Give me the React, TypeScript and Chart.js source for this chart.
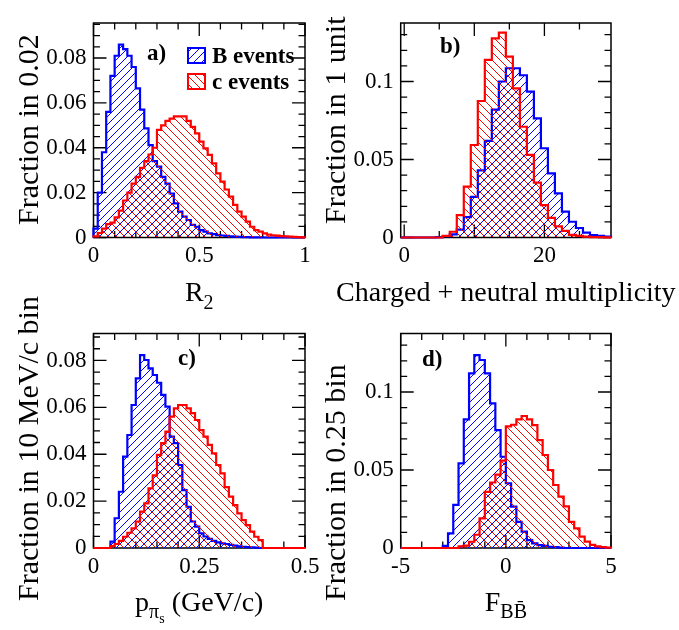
import React, { useEffect, useRef } from "react";
import { Chart, registerables } from "chart.js";

Chart.register(...registerables);

// ---------------- data ----------------
// Panel a) R2 : 50 bins of 0.02 from 0 to 1
const R2_START = 0;
const R2_BIN = 0.02;
const R2_B_EVENTS = [0.004, 0.02, 0.038, 0.056, 0.072, 0.081, 0.086, 0.084, 0.081, 0.076, 0.0665, 0.057, 0.0486, 0.0412, 0.034, 0.0316, 0.027, 0.024, 0.0196, 0.0152, 0.0115, 0.0093, 0.0078, 0.0056, 0.0048, 0.0033, 0.0026, 0.0018, 0.0015, 0.0011, 0.0009, 0.0007, 0.0005, 0.0004, 0.0003, 0.0002, 0.0002, 0.0001, 0.0001, 0.0001, 0, 0, 0, 0, 0, 0, 0, 0, 0, 0];
const R2_C_EVENTS = [0.0005, 0.002, 0.004, 0.006, 0.0066, 0.009, 0.012, 0.0165, 0.02, 0.024, 0.027, 0.031, 0.034, 0.037, 0.04, 0.048, 0.05, 0.052, 0.053, 0.054, 0.054, 0.054, 0.052, 0.0493, 0.0464, 0.0427, 0.0397, 0.0368, 0.033, 0.0286, 0.0249, 0.0214, 0.0182, 0.0145, 0.0115, 0.0093, 0.0071, 0.0048, 0.0033, 0.0026, 0.0018, 0.0013, 0.001, 0.0008, 0.0006, 0.0005, 0.0004, 0.0003, 0.0002, 0.0001];

// Panel b) multiplicity : 30 bins of 1 unit from -0.5 to 29.5
const MULT_START = -0.5;
const MULT_BIN = 1;
const MULT_B_EVENTS = [0, 0, 0, 0, 0, 0.0003, 0.0008, 0.002, 0.005, 0.013, 0.026, 0.043, 0.062, 0.082, 0.1, 0.1085, 0.1085, 0.104, 0.0935, 0.0764, 0.0572, 0.0411, 0.0283, 0.0166, 0.0101, 0.0061, 0.0031, 0.0016, 0.001, 0.0005];
const MULT_C_EVENTS = [0, 0, 0, 0, 0, 0, 0.001, 0.0037, 0.0144, 0.0326, 0.0593, 0.0875, 0.1138, 0.1277, 0.1313, 0.1159, 0.0956, 0.071, 0.053, 0.0352, 0.0208, 0.0126, 0.0071, 0.0043, 0.0017, 0.001, 0.0005, 0.0003, 0.0002, 0.0001];

// Panel c) p_pi_s : 50 bins of 0.01 GeV/c from 0 to 0.5
const PPI_START = 0;
const PPI_BIN = 0.01;
const PPI_B_EVENTS = [0, 0, 0, 0, 0.0027, 0.0127, 0.024, 0.039, 0.0482, 0.061, 0.0724, 0.0823, 0.0802, 0.0766, 0.0738, 0.0705, 0.0653, 0.0603, 0.0475, 0.0447, 0.0354, 0.0247, 0.0176, 0.0113, 0.0091, 0.0063, 0.0049, 0.0039, 0.003, 0.0024, 0.002, 0.0017, 0.0013, 0.001, 0.0007, 0.0005, 0.0004, 0.0003, 0.0002, 0, 0, 0, 0, 0, 0, 0, 0, 0, 0, 0];
const PPI_C_EVENTS = [0, 0, 0, 0, 0.0008, 0.0017, 0.003, 0.0048, 0.0065, 0.0084, 0.0113, 0.0155, 0.019, 0.0254, 0.031, 0.0397, 0.0447, 0.0496, 0.056, 0.0596, 0.061, 0.061, 0.0596, 0.0575, 0.0546, 0.0503, 0.0475, 0.044, 0.0404, 0.0354, 0.0318, 0.026, 0.0219, 0.0183, 0.0148, 0.0119, 0.0098, 0.007, 0.0048, 0.0034, 0, 0, 0, 0, 0, 0, 0, 0, 0, 0];

// Panel d) Fisher F_BB : 40 bins of 0.25 from -5 to 5
const FBB_START = -5;
const FBB_BIN = 0.25;
const FBB_B_EVENTS = [0, 0, 0, 0, 0, 0, 0, 0, 0.0013, 0.0094, 0.0276, 0.0543, 0.0825, 0.112, 0.1237, 0.1205, 0.112, 0.0927, 0.0756, 0.0585, 0.0415, 0.0265, 0.0168, 0.0105, 0.0051, 0.003, 0.0019, 0.0013, 0.0008, 0.0005, 0.0003, 0, 0, 0, 0, 0, 0, 0, 0, 0];
const FBB_C_EVENTS = [0, 0, 0, 0, 0, 0, 0, 0, 0, 0, 0, 0.001, 0.0015, 0.004, 0.0085, 0.019, 0.036, 0.042, 0.047, 0.056, 0.078, 0.079, 0.0825, 0.0846, 0.0825, 0.0788, 0.0692, 0.0596, 0.05, 0.0404, 0.0329, 0.0267, 0.0168, 0.0126, 0.0073, 0.0041, 0.002, 0.001, 0.0005, 0.0002];

// tick labels
const R2_X_LABELS = [0, 0.5, 1];
const R2_Y_LABELS = [0, 0.02, 0.04, 0.06, 0.08];
const MULT_X_LABELS = [0, 20];
const MULT_Y_LABELS = [0, 0.05, 0.1];
const PPI_X_LABELS = [0, 0.25, 0.5];
const PPI_Y_LABELS = [0, 0.02, 0.04, 0.06, 0.08];
const FBB_X_LABELS = [-5, 0, 5];
const FBB_Y_LABELS = [0, 0.05, 0.1];

const LEGEND_LABELS = ["B events", "c events"];

// ---------------- styles / layout ----------------
const W = 679;
const H = 630;
const BLUE = "#0000ff";
const RED = "#ff0000";
const SERIF = "'Liberation Serif', 'Times New Roman', serif";
const TICK_FONT = 23;
const TITLE_FONT = 28;
const Y_TITLE_FONT = 30;

type Seg = { t: string; size: number; dy: number; bar?: boolean };

type Panel = {
  frame: { l: number; t: number; r: number; b: number };
  xMin: number; xMax: number; yMax: number;
  start: number; bin: number; blue: number[]; red: number[];
  xLabels: number[]; yLabels: number[];
  xMinorStep: number; xMajorStep: number; yMinorStep: number; yMajorStep: number;
  tag: string; tagPos: [number, number];
  yTitle: string; yTitlePos: [number, number];
  xTitle: Seg[]; xTitleY: number;
  legend?: boolean;
};

const PANELS: Panel[] = [
  {
    frame: { l: 93.5, t: 23, r: 305, b: 237.5 },
    xMin: 0, xMax: 1, yMax: 0.0956,
    start: R2_START, bin: R2_BIN, blue: R2_B_EVENTS, red: R2_C_EVENTS,
    xLabels: R2_X_LABELS, yLabels: R2_Y_LABELS,
    xMinorStep: 0.1, xMajorStep: 0.5, yMinorStep: 0.005, yMajorStep: 0.02,
    tag: "a)", tagPos: [147, 60],
    yTitle: "Fraction in 0.02", yTitlePos: [38, 225],
    xTitle: [{ t: "R", size: TITLE_FONT, dy: 0 }, { t: "2", size: 20, dy: 8 }], xTitleY: 301,
    legend: true,
  },
  {
    frame: { l: 400.7, t: 23, r: 611, b: 237.5 },
    xMin: -0.5, xMax: 29.5, yMax: 0.1375,
    start: MULT_START, bin: MULT_BIN, blue: MULT_B_EVENTS, red: MULT_C_EVENTS,
    xLabels: MULT_X_LABELS, yLabels: MULT_Y_LABELS,
    xMinorStep: 5, xMajorStep: 10, yMinorStep: 0.01, yMajorStep: 0.05,
    tag: "b)", tagPos: [440, 53],
    yTitle: "Fraction in 1 unit", yTitlePos: [345, 224],
    xTitle: [{ t: "Charged + neutral multiplicity", size: TITLE_FONT, dy: 0 }], xTitleY: 301,
  },
  {
    frame: { l: 93.5, t: 333.5, r: 305, b: 548 },
    xMin: 0, xMax: 0.5, yMax: 0.0915,
    start: PPI_START, bin: PPI_BIN, blue: PPI_B_EVENTS, red: PPI_C_EVENTS,
    xLabels: PPI_X_LABELS, yLabels: PPI_Y_LABELS,
    xMinorStep: 0.05, xMajorStep: 0.25, yMinorStep: 0.005, yMajorStep: 0.02,
    tag: "c)", tagPos: [178, 365],
    yTitle: "Fraction in 10 MeV/c bin", yTitlePos: [38, 601],
    xTitle: [
      { t: "p", size: TITLE_FONT, dy: 0 },
      { t: "π", size: 20, dy: 7 },
      { t: "s", size: 14, dy: 12 },
      { t: " (GeV/c)", size: TITLE_FONT, dy: 0 },
    ],
    xTitleY: 611,
  },
  {
    frame: { l: 400.7, t: 333.5, r: 611, b: 548 },
    xMin: -5, xMax: 5, yMax: 0.1375,
    start: FBB_START, bin: FBB_BIN, blue: FBB_B_EVENTS, red: FBB_C_EVENTS,
    xLabels: FBB_X_LABELS, yLabels: FBB_Y_LABELS,
    xMinorStep: 1, xMajorStep: 5, yMinorStep: 0.01, yMajorStep: 0.05,
    tag: "d)", tagPos: [422, 366],
    yTitle: "Fraction in 0.25 bin", yTitlePos: [345, 601],
    xTitle: [
      { t: "F", size: TITLE_FONT, dy: 0 },
      { t: "B", size: 20, dy: 7 },
      { t: "B", size: 20, dy: 7, bar: true },
    ],
    xTitleY: 611,
  },
];

function hatch(color: string, forward: boolean): CanvasPattern | string {
  const s = 8;
  const c = document.createElement("canvas");
  c.width = s;
  c.height = s;
  const g = c.getContext("2d");
  if (!g) return "transparent";
  g.strokeStyle = color;
  g.lineWidth = 1;
  g.beginPath();
  if (forward) {
    g.moveTo(0, s); g.lineTo(s, 0);
    g.moveTo(-1, 1); g.lineTo(1, -1);
    g.moveTo(s - 1, s + 1); g.lineTo(s + 1, s - 1);
  } else {
    g.moveTo(0, 0); g.lineTo(s, s);
    g.moveTo(-1, s - 1); g.lineTo(1, s + 1);
    g.moveTo(s - 1, -1); g.lineTo(s + 1, 1);
  }
  g.stroke();
  return g.createPattern(c, "repeat") || color;
}

function stepPoints(start: number, bin: number, values: number[]) {
  const pts: { x: number; y: number }[] = [{ x: start, y: 0 }];
  values.forEach((v, i) => {
    pts.push({ x: start + i * bin, y: v });
    pts.push({ x: start + (i + 1) * bin, y: v });
  });
  pts.push({ x: start + values.length * bin, y: 0 });
  return pts;
}

function tickValues(min: number, max: number, step: number) {
  const out: number[] = [];
  const first = Math.ceil(min / step - 1e-9);
  for (let k = first; k * step <= max + 1e-9; k++) out.push(k * step);
  return out;
}

function drawSegs(ctx: CanvasRenderingContext2D, segs: Seg[], cx: number, y: number) {
  let total = 0;
  segs.forEach((s) => {
    ctx.font = `${s.size}px ${SERIF}`;
    total += ctx.measureText(s.t).width;
  });
  let x = cx - total / 2;
  ctx.textAlign = "left";
  ctx.textBaseline = "alphabetic";
  segs.forEach((s) => {
    ctx.font = `${s.size}px ${SERIF}`;
    const w = ctx.measureText(s.t).width;
    ctx.fillText(s.t, x, y + s.dy);
    if (s.bar) {
      ctx.save();
      ctx.lineWidth = 1.2;
      ctx.strokeStyle = "#000";
      ctx.beginPath();
      const by = y + s.dy - s.size * 0.82;
      ctx.moveTo(x + w * 0.3, by);
      ctx.lineTo(x + w * 0.7, by);
      ctx.stroke();
      ctx.restore();
    }
    x += w;
  });
}

function makeDecor(p: Panel, blueFill: any, redFill: any) {
  return {
    id: "rootDecor",
    beforeDatasetsDraw(chart: any) {
      const ctx: CanvasRenderingContext2D = chart.ctx;
      const { left, right, top, bottom } = chart.chartArea;
      const xs = chart.scales.x;
      const ys = chart.scales.y;
      ctx.save();
      ctx.strokeStyle = "#000";
      ctx.lineWidth = 1.5;
      ctx.strokeRect(left, top, right - left, bottom - top);
      ctx.lineWidth = 1.3;
      ctx.beginPath();
      tickValues(p.xMin, p.xMax, p.xMinorStep).forEach((v) => {
        const major = Math.abs(v / p.xMajorStep - Math.round(v / p.xMajorStep)) < 1e-6;
        const len = major ? 13 : 6.5;
        const px = xs.getPixelForValue(v);
        ctx.moveTo(px, bottom); ctx.lineTo(px, bottom - len);
        ctx.moveTo(px, top); ctx.lineTo(px, top + len);
      });
      tickValues(0, p.yMax, p.yMinorStep).forEach((v) => {
        const major = Math.abs(v / p.yMajorStep - Math.round(v / p.yMajorStep)) < 1e-6;
        const len = major ? 13 : 6.5;
        const py = ys.getPixelForValue(v);
        ctx.moveTo(left, py); ctx.lineTo(left + len, py);
        ctx.moveTo(right, py); ctx.lineTo(right - len, py);
      });
      ctx.stroke();
      ctx.restore();
    },
    afterDraw(chart: any) {
      const ctx: CanvasRenderingContext2D = chart.ctx;
      const { left, right } = chart.chartArea;
      ctx.save();
      ctx.fillStyle = "#000";
      ctx.font = `bold 23px ${SERIF}`;
      ctx.textAlign = "left";
      ctx.textBaseline = "alphabetic";
      ctx.fillText(p.tag, p.tagPos[0], p.tagPos[1]);
      if (p.legend) {
        const rows = [
          { label: LEGEND_LABELS[0], color: BLUE, fill: blueFill, y: 48 },
          { label: LEGEND_LABELS[1], color: RED, fill: redFill, y: 74 },
        ];
        rows.forEach((r) => {
          ctx.fillStyle = r.fill;
          ctx.fillRect(188, r.y, 17, 15);
          ctx.strokeStyle = r.color;
          ctx.lineWidth = 2;
          ctx.strokeRect(188, r.y, 17, 15);
          ctx.fillStyle = "#000";
          ctx.font = `bold 23px ${SERIF}`;
          ctx.fillText(r.label, 212, r.y + 15);
        });
      }
      ctx.fillStyle = "#000";
      drawSegs(ctx, p.xTitle, (left + right) / 2, p.xTitleY);
      ctx.save();
      ctx.translate(p.yTitlePos[0], p.yTitlePos[1]);
      ctx.rotate(-Math.PI / 2);
      ctx.font = `${Y_TITLE_FONT}px ${SERIF}`;
      ctx.textAlign = "left";
      ctx.textBaseline = "alphabetic";
      ctx.fillText(p.yTitle, 0, 0);
      ctx.restore();
      ctx.restore();
    },
  };
}

const Y_AXIS_W = 60;
const X_AXIS_H = 40;

function buildChart(canvas: HTMLCanvasElement, p: Panel) {
  const blueFill = hatch(BLUE, true);
  const redFill = hatch(RED, false);
  const fmt = (v: any) => String(Number(v));
  return new Chart(canvas, {
    type: "line",
    data: {
      datasets: [
        {
          label: LEGEND_LABELS[0],
          data: stepPoints(p.start, p.bin, p.blue),
          borderColor: BLUE,
          backgroundColor: blueFill as any,
          borderWidth: 2.2,
          fill: "origin",
          pointRadius: 0,
          tension: 0,
          clip: false as any,
          order: 2,
        },
        {
          label: LEGEND_LABELS[1],
          data: stepPoints(p.start, p.bin, p.red),
          borderColor: RED,
          backgroundColor: redFill as any,
          borderWidth: 2.2,
          fill: "origin",
          pointRadius: 0,
          tension: 0,
          clip: false as any,
          order: 1,
        },
      ],
    },
    options: {
      animation: false,
      responsive: false,
      events: [],
      layout: {
        padding: {
          left: p.frame.l - Y_AXIS_W,
          top: p.frame.t,
          right: W - p.frame.r,
          bottom: H - p.frame.b - X_AXIS_H,
        },
      },
      plugins: { legend: { display: false }, tooltip: { enabled: false } },
      scales: {
        x: {
          type: "linear",
          min: p.xMin,
          max: p.xMax,
          grid: { display: false, drawTicks: false },
          border: { display: false },
          afterFit: (s: any) => { s.height = X_AXIS_H; },
          afterBuildTicks: (s: any) => { s.ticks = p.xLabels.map((v) => ({ value: v })); },
          ticks: {
            callback: fmt,
            color: "#000",
            font: { family: SERIF, size: TICK_FONT },
            padding: 5,
            maxRotation: 0,
            autoSkip: false,
          },
        },
        y: {
          type: "linear",
          min: 0,
          max: p.yMax,
          grid: { display: false, drawTicks: false },
          border: { display: false },
          afterFit: (s: any) => { s.width = Y_AXIS_W; },
          afterBuildTicks: (s: any) => { s.ticks = p.yLabels.map((v) => ({ value: v })); },
          ticks: {
            callback: fmt,
            color: "#000",
            font: { family: SERIF, size: TICK_FONT },
            padding: 7,
            autoSkip: false,
          },
        },
      },
    } as any,
    plugins: [makeDecor(p, blueFill, redFill)],
  });
}

export default function App() {
  const refs = [useRef<HTMLCanvasElement>(null), useRef<HTMLCanvasElement>(null), useRef<HTMLCanvasElement>(null), useRef<HTMLCanvasElement>(null)];
  useEffect(() => {
    const charts = PANELS.map((p, i) => {
      const c = refs[i].current;
      return c ? buildChart(c, p) : null;
    });
    return () => charts.forEach((c) => c && c.destroy());
  }, []);
  return (
    <div style={{ position: "absolute", left: 0, top: 0, width: W, height: H, background: "#fff" }}>
      {PANELS.map((_, i) => (
        <canvas
          key={i}
          ref={refs[i]}
          width={W}
          height={H}
          style={{ position: "absolute", left: 0, top: 0, width: W, height: H }}
        />
      ))}
    </div>
  );
}
